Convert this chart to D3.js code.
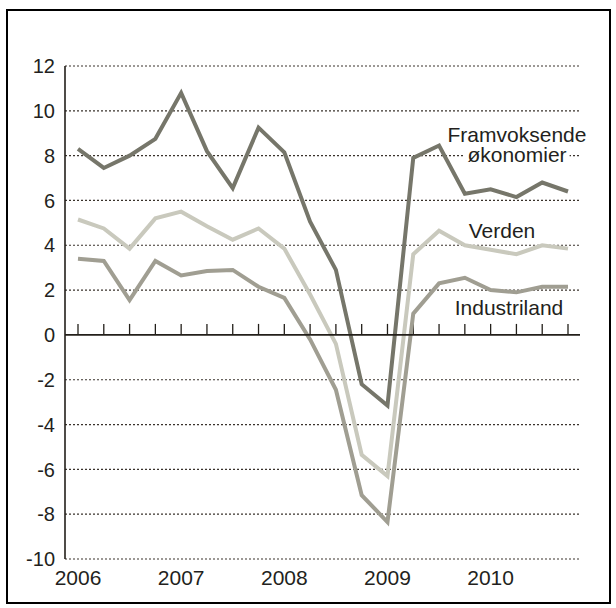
<!DOCTYPE html>
<html>
<head>
<meta charset="utf-8">
<script src="https://cdn.jsdelivr.net/npm/d3@7"></script>
<style>
  body { margin: 0; background: #fff; }
  text { font-family: "Liberation Sans", Arial, sans-serif; fill: #231f20; }
</style>
</head>
<body>
<svg id="chart" width="616" height="608"></svg>
<script>
// quarterly data 2006 Q1 - 2010 Q4
var quarters = d3.range(20);
var yearLabels = ["2006", "2007", "2008", "2009", "2010"];
var yTicks = [-10, -8, -6, -4, -2, 0, 2, 4, 6, 8, 10, 12];

var framvoksende = [8.3, 7.45, 8.0, 8.75, 10.8, 8.2, 6.55, 9.25, 8.15, 5.05, 2.9, -2.2, -3.15, 7.9, 8.45, 6.3, 6.5, 6.15, 6.8, 6.4];
var verden = [5.15, 4.75, 3.85, 5.2, 5.5, 4.85, 4.25, 4.75, 3.85, 1.8, -0.4, -5.35, -6.3, 3.6, 4.65, 4.0, 3.8, 3.6, 4.0, 3.85];
var industriland = [3.4, 3.3, 1.55, 3.3, 2.65, 2.85, 2.9, 2.15, 1.65, -0.2, -2.45, -7.15, -8.35, 0.95, 2.3, 2.55, 2.0, 1.9, 2.15, 2.15];

var series = [
    { name: "Industriland", values: industriland, color: "#a09e92" },
    { name: "Verden", values: verden, color: "#c9c9bd" },
    { name: "Framvoksende", values: framvoksende, color: "#76766a" }
];

var svg = d3.select("#chart");

// frame
svg.append("rect")
    .attr("x", 7).attr("y", 10)
    .attr("width", 603).attr("height", 593)
    .attr("fill", "none")
    .attr("stroke", "#000")
    .attr("stroke-width", 2);

var x = d3.scaleLinear().domain([0, 19]).range([78, 568]);
var y = d3.scaleLinear().domain([-10, 12]).range([559, 66]);
var xLeft = 65, xRight = 580;

// dotted gridlines
svg.append("g")
    .selectAll("line")
    .data(yTicks.filter(d => d != 0))
    .enter().append("line")
    .attr("x1", xLeft).attr("x2", xRight)
    .attr("y1", d => y(d)).attr("y2", d => y(d))
    .attr("stroke", "#3a332c")
    .attr("stroke-width", 1.2)
    .attr("stroke-dasharray", "2,2");

// y tick labels
svg.append("g")
    .selectAll("text")
    .data(yTicks)
    .enter().append("text")
    .attr("x", 55)
    .attr("y", d => y(d))
    .attr("dy", "0.36em")
    .attr("text-anchor", "end")
    .style("font-size", "20px")
    .text(d => d);

// quarter ticks on the zero line
svg.append("g")
    .selectAll("line")
    .data(quarters)
    .enter().append("line")
    .attr("x1", d => x(d)).attr("x2", d => x(d))
    .attr("y1", y(0)).attr("y2", y(0) - 11)
    .attr("stroke", "#231f1a")
    .attr("stroke-width", 1.3);

// year labels
svg.append("g")
    .selectAll("text")
    .data(yearLabels)
    .enter().append("text")
    .attr("x", (d, i) => x(i * 4))
    .attr("y", 585)
    .attr("text-anchor", "middle")
    .style("font-size", "21px")
    .text(d => d);

// lines
var line = d3.line()
    .x((d, i) => x(i))
    .y(d => y(d));

svg.append("g")
    .selectAll("path")
    .data(series)
    .enter().append("path")
    .attr("d", d => line(d.values))
    .attr("fill", "none")
    .attr("stroke", d => d.color)
    .attr("stroke-width", 4);

// axes
svg.append("line")
    .attr("x1", xLeft).attr("x2", xLeft)
    .attr("y1", y(12)).attr("y2", y(-10))
    .attr("stroke", "#231f1a")
    .attr("stroke-width", 1.6);

svg.append("line")
    .attr("x1", xLeft).attr("x2", xRight)
    .attr("y1", y(0)).attr("y2", y(0))
    .attr("stroke", "#231f1a")
    .attr("stroke-width", 1.6);

// series labels (each line of a label is a tspan with its own white backing)
var labels = [
    { lines: ["Framvoksende", "økonomier"], x: 517, y: 142 },
    { lines: ["Verden"], x: 502, y: 238 },
    { lines: ["Industriland"], x: 509, y: 315 }
];

labels.forEach(function (d) {
    var g = svg.append("g");
    var bg = g.append("g");
    var t = g.append("text")
        .attr("text-anchor", "middle")
        .style("font-size", "21px");
    d.lines.forEach(function (s, i) {
        t.append("tspan")
            .attr("x", d.x)
            .attr("y", d.y + i * 20)
            .text(s);
    });
    t.selectAll("tspan").each(function () {
        var b = this.getBBox();
        bg.append("rect")
            .attr("fill", "#fff")
            .attr("x", b.x - 3).attr("y", b.y + 4)
            .attr("width", b.width + 6).attr("height", b.height - 7);
    });
});
</script>
</body>
</html>
